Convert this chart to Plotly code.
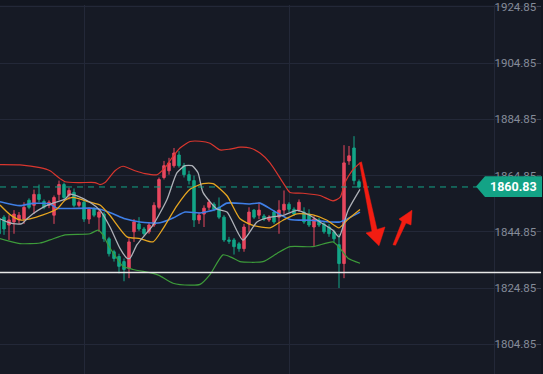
import plotly.graph_objects as go

# ---------------- data ----------------
idx = list(range(73))
opens = [1849.4, 1850.1, 1847.3, 1848.4, 1849.1, 1849.4, 1856.1, 1854.3, 1858.2, 1855.7,
         1854.3, 1850.8, 1858.2, 1861.7, 1857.8, 1858.9, 1854.3, 1855.4, 1849.4, 1852.9,
         1850.1, 1851.2, 1842.4, 1837.8, 1836.1, 1834.3, 1831.9, 1844.9, 1847.7, 1845.9,
         1844.9, 1847.3, 1853.6, 1864.2, 1866.6, 1868.4, 1872.2, 1868.4, 1865.2, 1863.1,
         1849.1, 1851.2, 1853.6, 1854.7, 1853.6, 1850.1, 1842.0, 1842.0, 1840.6, 1838.9,
         1847.7, 1852.6, 1850.8, 1850.5, 1849.1, 1851.9, 1850.1, 1852.6, 1854.7, 1852.9,
         1852.6, 1851.9, 1851.2, 1846.6, 1849.1, 1847.7, 1846.6, 1844.9, 1840.3, 1833.6,
         1870.1, 1874.7, 1862.7]
highs = [1850.1, 1850.8, 1850.8, 1852.6, 1851.9, 1855.4, 1856.8, 1859.9, 1861.7, 1856.4,
         1856.1, 1857.8, 1863.1, 1862.4, 1860.6, 1860.3, 1856.1, 1856.1, 1853.6, 1853.6,
         1852.9, 1851.9, 1843.1, 1838.5, 1837.1, 1835.4, 1843.1, 1849.4, 1850.1, 1846.6,
         1848.4, 1855.4, 1864.2, 1870.1, 1871.2, 1874.7, 1873.6, 1869.4, 1866.6, 1864.9,
         1851.9, 1854.3, 1856.4, 1855.4, 1857.1, 1850.8, 1843.1, 1842.7, 1841.3, 1847.7,
         1853.6, 1853.0, 1855.4, 1851.2, 1850.8, 1852.6, 1856.1, 1859.6, 1855.4, 1853.6,
         1856.4, 1853.6, 1852.9, 1850.5, 1849.8, 1848.4, 1847.7, 1845.6, 1844.2, 1875.7,
         1875.4, 1878.9, 1863.5]
lows = [1843.5, 1843.8, 1842.0, 1844.2, 1847.7, 1847.7, 1852.9, 1851.2, 1855.4, 1852.9,
        1853.3, 1847.7, 1856.1, 1856.4, 1856.4, 1853.6, 1853.6, 1848.4, 1847.7, 1850.1,
        1844.9, 1841.3, 1836.1, 1834.3, 1830.1, 1827.3, 1828.4, 1841.3, 1845.2, 1843.5,
        1844.2, 1846.6, 1852.9, 1863.5, 1865.2, 1867.7, 1867.7, 1864.2, 1861.7, 1846.6,
        1847.7, 1846.6, 1852.6, 1852.2, 1849.4, 1841.3, 1840.6, 1836.8, 1837.8, 1837.8,
        1844.9, 1849.4, 1849.4, 1848.7, 1848.4, 1847.7, 1844.2, 1851.2, 1851.9, 1850.5,
        1851.9, 1847.7, 1846.6, 1839.6, 1846.6, 1844.2, 1843.1, 1841.3, 1824.9, 1828.4,
        1868.7, 1861.7, 1860.3]
closes = [1844.2, 1845.9, 1849.1, 1851.2, 1850.8, 1853.6, 1853.6, 1858.2, 1856.4, 1853.6,
          1855.4, 1857.1, 1861.7, 1857.1, 1859.6, 1854.3, 1855.4, 1849.4, 1852.9, 1850.8,
          1851.9, 1842.4, 1837.1, 1835.4, 1832.6, 1831.5, 1841.3, 1848.4, 1845.9, 1844.2,
          1847.3, 1854.3, 1863.5, 1868.4, 1869.4, 1872.9, 1868.4, 1865.2, 1863.1, 1849.1,
          1850.8, 1853.3, 1855.4, 1852.9, 1850.1, 1842.0, 1841.5, 1839.6, 1838.9, 1846.6,
          1851.9, 1850.1, 1852.6, 1849.4, 1850.1, 1848.4, 1852.6, 1854.7, 1852.9, 1851.2,
          1855.4, 1848.4, 1847.3, 1849.4, 1847.3, 1844.9, 1844.2, 1842.4, 1833.6, 1869.4,
          1871.9, 1863.1, 1860.83]

upper_x = [0.2, 4.2, 8.2, 10.2, 12.2, 13.2, 16.2, 19.2, 20.2, 21.2, 23.2, 24.8, 27.2, 29.2,
           31.6, 33.2, 34.6, 36.2, 38.2, 40.2, 42.2, 44.2, 46.2, 48.2, 50.2, 52.2, 54.2,
           56.8, 58.2, 60.8, 64.2, 66.8, 68.2, 69.2, 70.6, 72.2]
upper_y = [1868.8, 1868.7, 1867.7, 1866.6, 1863.8, 1862.7, 1862.4, 1862.4, 1861.7, 1862.4,
           1866.6, 1868.2, 1866.6, 1865.6, 1865.2, 1867.7, 1871.2, 1874.7, 1877.0, 1877.1,
           1876.4, 1874.0, 1874.3, 1875.0, 1874.7, 1872.9, 1869.4, 1862.4, 1858.9, 1858.6,
           1857.8, 1855.9, 1857.1, 1862.4, 1866.6, 1869.4]

lower_x = [0.2, 4.2, 8.2, 10.2, 13.2, 18.2, 19.8, 20.8, 21.8, 23.6, 24.8, 26.8, 30.8, 32.0,
           34.8, 38.2, 40.2, 42.2, 44.8, 46.6, 48.2, 52.8, 55.6, 58.2, 62.8, 66.8, 68.2,
           69.8, 72.2]
lower_y = [1842.5, 1840.7, 1840.9, 1842.0, 1843.8, 1844.2, 1845.5, 1843.8, 1840.3, 1835.4,
           1832.6, 1831.5, 1830.1, 1829.4, 1826.6, 1825.9, 1826.2, 1829.7, 1836.7, 1835.7,
           1834.3, 1834.3, 1837.2, 1839.6, 1839.6, 1841.3, 1839.0, 1835.5, 1833.7]

mid_x = [0.2, 4.2, 6.8, 10.2, 11.6, 18.2, 20.2, 22.8, 25.2, 28.2, 32.2, 34.8, 37.2, 40.2,
         43.6, 45.6, 50.2, 52.2, 54.8, 58.2, 62.2, 66.2, 68.2, 72.2]
mid_y = [1855.6, 1854.2, 1855.0, 1854.8, 1853.3, 1853.3, 1852.9, 1851.3, 1849.5, 1848.4,
         1848.1, 1849.8, 1851.9, 1851.6, 1853.0, 1855.1, 1854.8, 1855.1, 1852.5, 1849.3,
         1849.0, 1848.4, 1848.4, 1851.9]

ma10_x = [0.2, 2.2, 4.2, 6.2, 8.8, 11.6, 13.2, 14.8, 18.2, 20.2, 22.2, 25.6, 28.2, 30.8,
          32.8, 35.6, 38.2, 40.8, 42.8, 45.6, 48.2, 50.8, 54.2, 56.8, 59.6, 62.8, 65.6,
          68.0, 69.6, 72.2]
ma10_y = [1854.4, 1851.0, 1849.1, 1849.5, 1850.9, 1853.0, 1856.1, 1857.1, 1855.4, 1854.4,
          1850.7, 1843.1, 1842.5, 1841.3, 1846.0, 1854.2, 1860.0, 1862.0, 1862.0, 1857.7,
          1849.5, 1847.2, 1846.3, 1849.0, 1851.3, 1850.9, 1849.0, 1846.3, 1849.0, 1852.8]

ma5_x = [0.2, 1.6, 2.8, 4.6, 5.6, 6.8, 8.8, 10.8, 13.2, 14.2, 15.6, 18.2, 20.2, 22.2, 24.2,
         25.6, 26.2, 27.6, 30.8, 33.6, 35.6, 37.2, 38.6, 39.8, 40.8, 43.6, 45.6, 48.8, 51.6,
         54.2, 56.8, 59.6, 62.2, 64.2, 66.8, 68.0, 69.8, 72.2]
ma5_y = [1849.5, 1848.4, 1847.8, 1847.8, 1849.5, 1851.3, 1853.6, 1855.1, 1856.5, 1858.3,
         1857.7, 1855.4, 1852.5, 1846.6, 1839.0, 1835.5, 1835.5, 1840.3, 1847.3, 1856.4,
         1865.9, 1868.4, 1868.4, 1865.9, 1858.9, 1853.0, 1851.9, 1841.9, 1848.4, 1850.1,
         1850.7, 1852.5, 1850.7, 1848.4, 1845.4, 1843.1, 1852.5, 1860.0]

tick_vals = [1804.85, 1824.85, 1844.85, 1864.85, 1884.85, 1904.85, 1924.85]
tick_text = ["1804.85", "1824.85", "1844.85", "1864.85", "1884.85", "1904.85", "1924.85"]
last_price = 1860.83
support_level = 1830.45

# ---------------- style ----------------
BG = "#161a25"
GRID = "#232838"
RED = "#e8475f"
GREEN = "#13a588"
TEAL = "#13a386"

W, H = 543, 374
ML, MR, MT, MB = 0, 2, 0, 0
PW, PH = W - ML - MR, H - MT - MB

fig = go.Figure()

def line(xs, ys, color, width=1.2):
    fig.add_trace(go.Scatter(x=xs, y=ys, mode="lines",
                             line=dict(color=color, width=width, shape="spline", smoothing=0.6),
                             hoverinfo="skip", showlegend=False))

line(upper_x, upper_y, "#d9362e")
line(lower_x, lower_y, "#3d9b3a")

fig.add_trace(go.Candlestick(
    x=idx, open=opens, high=highs, low=lows, close=closes,
    increasing=dict(line=dict(color=RED, width=1), fillcolor=RED),
    decreasing=dict(line=dict(color=GREEN, width=1), fillcolor=GREEN),
    whiskerwidth=0, showlegend=False, hoverinfo="skip"))

line(mid_x, mid_y, "#3f7fe6", 1.6)
line(ma10_x, ma10_y, "#e6a520", 1.3)
line(ma5_x, ma5_y, "#aeb1b8", 1.3)

def px(x):
    return (x - ML) / PW
def py(y):
    return 1 - (y - MT) / PH

shapes = []
shapes.append(dict(type="line", xref="paper", yref="y", x0=0, x1=1,
                   y0=support_level, y1=support_level,
                   line=dict(color="#e8e8e8", width=1.5), layer="above"))
shapes.append(dict(type="line", xref="paper", yref="y", x0=0, x1=px(478),
                   y0=last_price, y1=last_price,
                   line=dict(color=TEAL, width=1, dash="6px,5px"), layer="above"))

def poly(points):
    return "M " + " L ".join(f"{px(x):.5f},{py(y):.5f}" for x, y in points) + " Z"

down_arrow = [(359.5, 160), (372, 229.5), (366, 231), (379, 244), (385, 225), (377, 227.5), (361.5, 159)]
up_arrow = [(393, 243), (402, 219.5), (399, 217), (412, 208), (411, 223), (406, 221), (395.5, 243.5)]
for pts in (down_arrow, up_arrow):
    shapes.append(dict(type="path", xref="paper", yref="paper", path=poly(pts),
                       fillcolor="#f21d12", line=dict(color="#f21d12", width=0.5), layer="above"))

ly = 184
shapes.append(dict(type="path", xref="paper", yref="paper",
                   path=poly([(476, ly), (485, ly - 10.5), (542, ly - 10.5), (542, ly + 10.5), (485, ly + 10.5)]),
                   fillcolor=TEAL, line=dict(color=TEAL, width=0), layer="above"))

fig.update_layout(
    width=W, height=H,
    margin=dict(l=ML, r=MR, t=MT, b=MB, pad=0),
    paper_bgcolor="#121620",
    plot_bgcolor=BG,
    showlegend=False,
    hovermode=False,
    shapes=shapes,
    annotations=[dict(xref="paper", yref="y", x=px(539), y=last_price, xanchor="right",
                      yanchor="middle", text="<b>1860.83</b>", showarrow=False,
                      font=dict(family="Roboto", size=12.5, color="#ffffff"))],
    xaxis=dict(range=[0.2, 108.4], showgrid=True, gridcolor=GRID, gridwidth=1,
               tick0=17, dtick=41, showticklabels=False, zeroline=False,
               showline=False, rangeslider=dict(visible=False), fixedrange=True),
    yaxis=dict(range=[1794.32, 1925.55], side="right", tickvals=tick_vals, ticktext=tick_text,
               ticklabelposition="inside", ticklabeloverflow="allow",
               ticks="inside", ticklen=4, tickcolor="#3a4050", fixedrange=True,
               showgrid=True, gridcolor=GRID, gridwidth=1, zeroline=False, showline=False,
               tickfont=dict(family="Roboto", size=11.5, color="#858b98")),
)

fig.write_html("out.html", config={"displayModeBar": False, "staticPlot": True},
               post_script="document.body.style.margin='0';")
